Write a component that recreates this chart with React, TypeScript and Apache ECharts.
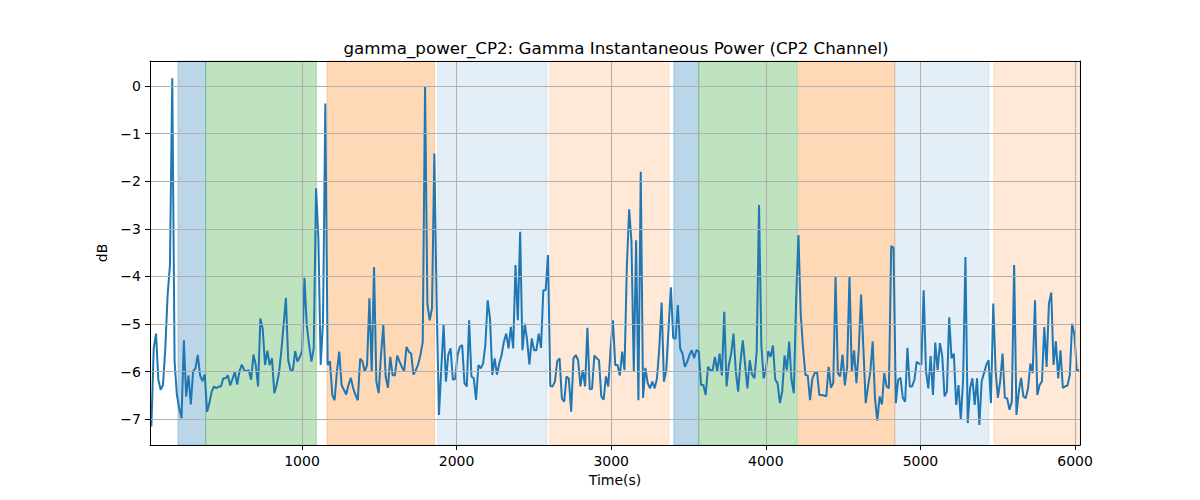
import React, { useEffect, useRef } from "react";
import * as echarts from "echarts";

const TITLE = "gamma_power_CP2: Gamma Instantaneous Power (CP2 Channel)";
const X_NAME = "Time(s)";
const Y_NAME = "dB";

// regular sampling of the time axis (seconds)
const T_START = 26;
const T_STEP = 15;

// gamma power (dB), one value per sample
const POWER_DB = [
  -7.15, -5.51, -5.2, -6.17, -6.38, -6.28, -5.51, -4.39, -3.76, 0.16,
  -5.79, -6.49, -6.77, -6.98, -5.34, -6.52, -6.08, -6.69, -5.99, -5.93,
  -5.65, -6.08, -6.2, -6.06, -6.84, -6.66, -6.42, -6.31, -6.35, -6.31,
  -6.31, -6.14, -6.14, -6.08, -6.29, -6.15, -6.01, -6.27, -5.99, -5.85,
  -5.97, -5.99, -5.97, -6.17, -5.64, -5.86, -6.31, -4.88, -5.1, -5.86,
  -5.56, -5.86, -5.72, -6.45, -6.28, -6.03, -5.58, -5.02, -4.45, -5.76,
  -5.97, -5.97, -5.57, -5.79, -5.69, -5.57, -4.03, -5.02, -5.44, -5.79,
  -5.51, -2.15, -3.2, -5.86, -4.95, -0.37, -5.86, -5.78, -6.49, -6.6,
  -6.0, -5.58, -6.28, -6.38, -6.48, -6.28, -6.13, -6.35, -6.49, -6.6,
  -5.73, -5.78, -6.0, -5.86, -4.46, -6.0, -3.8, -6.21, -6.45, -5.65,
  -5.02, -6.1, -6.34, -5.69, -6.07, -6.08, -5.66, -5.79, -5.9, -5.99,
  -5.48, -5.58, -5.62, -6.06, -5.97, -5.85, -5.65, -5.38, 0.0, -4.57,
  -4.92, -4.67, -1.42, -4.6, -6.91, -5.93, -5.01, -6.21, -5.65, -5.51,
  -6.17, -6.15, -5.65, -5.48, -5.44, -6.24, -6.31, -4.92, -6.1, -6.14,
  -6.59, -5.86, -5.93, -5.83, -5.44, -4.5, -4.88, -6.07, -5.72, -6.06,
  -5.83, -5.65, -5.37, -5.2, -5.51, -5.06, -5.51, -3.76, -4.92, -3.06,
  -5.55, -4.99, -5.34, -5.85, -5.3, -5.55, -5.55, -5.2, -5.5, -4.29,
  -4.29, -3.55, -6.3, -6.31, -6.21, -5.78, -5.72, -6.56, -6.63, -6.1,
  -6.15, -6.84, -5.72, -5.65, -5.76, -6.31, -5.97, -6.31, -5.08, -6.37,
  -6.36, -5.66, -5.72, -5.76, -6.52, -6.59, -6.1, -6.31, -5.51, -4.92,
  -5.86, -5.86, -6.08, -5.58, -5.97, -3.8, -2.59, -3.27, -6.0, -3.24,
  -6.6, -1.8, -6.55, -5.92, -6.24, -6.35, -6.21, -6.35, -6.14, -5.51,
  -4.55, -6.21, -5.97, -5.09, -4.23, -5.29, -5.31, -4.6, -5.51, -5.62,
  -5.9, -5.8, -5.65, -5.55, -5.72, -5.55, -5.57, -6.28, -6.28, -6.49,
  -5.9, -5.97, -5.97, -5.69, -6.0, -5.62, -6.08, -4.74, -6.31, -5.86,
  -5.62, -5.2, -6.0, -6.42, -5.79, -5.34, -5.86, -6.35, -5.76, -6.06,
  -6.14, -5.58, -2.5, -5.44, -6.14, -5.93, -5.57, -5.69, -5.45, -6.17,
  -6.24, -6.66, -6.42, -5.66, -5.97, -5.37, -6.17, -6.45, -4.5, -3.13,
  -4.81, -5.51, -6.07, -6.08, -6.6, -6.14, -6.03, -6.0, -6.49, -6.49,
  -6.5, -6.52, -5.9, -6.34, -6.24, -4.01, -6.03, -6.1, -5.64, -6.29,
  -5.9, -3.99, -6.0, -5.55, -6.24, -5.55, -4.38, -5.51, -6.66, -6.31,
  -6.0, -5.36, -6.56, -7.03, -6.52, -6.69, -6.03, -6.31, -6.35, -3.36,
  -3.4, -6.66, -6.17, -6.13, -6.55, -6.63, -5.5, -6.31, -6.31, -6.17,
  -5.79, -5.83, -5.85, -4.29, -6.0, -6.35, -5.67, -6.49, -5.39, -5.97,
  -5.4, -5.67, -6.52, -6.42, -4.86, -5.72, -5.62, -6.7, -6.28, -7.01,
  -6.17, -3.59, -7.08, -6.35, -6.14, -6.7, -6.14, -7.12, -6.2, -6.03,
  -5.86, -5.76, -6.66, -4.57, -5.97, -6.55, -6.2, -5.62, -6.55, -6.56,
  -6.8, -6.63, -3.76, -6.91, -6.42, -6.13, -6.52, -6.56, -6.35, -5.83,
  -6.03, -4.5, -6.49, -6.28, -6.2, -5.06, -5.9, -4.57, -4.34, -5.86,
  -5.36, -6.14, -5.55, -6.34, -6.31, -6.29, -6.07, -4.99, -5.23, -5.97,
  -5.97,
];

const X_TICKS = [1000, 2000, 3000, 4000, 5000, 6000];
const Y_TICKS = [-7, -6, -5, -4, -3, -2, -1, 0];

// shaded epochs
const SPAN_STARTS = [198, 377, 1162, 1878, 2602, 3405, 3566, 4213, 4834, 5475];
const SPAN_ENDS = [377, 1093, 1858, 2585, 3374, 3566, 4204, 4834, 5443, 6040];
const SPAN_KINDS = [
  "blue", "green", "orange", "lightblue", "lightorange",
  "blue", "green", "orange", "lightblue", "lightorange",
];

const SPAN_COLORS: Record<string, string> = {
  blue: "rgba(31,119,180,0.3)",
  green: "rgba(44,160,44,0.3)",
  orange: "rgba(255,127,14,0.3)",
  lightblue: "rgba(31,119,180,0.12)",
  lightorange: "rgba(255,127,14,0.17)",
};

const X_MIN = 17;
const X_MAX = 6032;
const Y_MIN = -7.54;
const Y_MAX = 0.525;

const FONT = "DejaVu Sans";

const fmt = (v: number) => (v < 0 ? "\u2212" + Math.abs(v) : String(v));

export default function App() {
  const ref = useRef<HTMLDivElement>(null);

  useEffect(() => {
    if (!ref.current) return;
    const chart = echarts.init(ref.current, undefined, { renderer: "svg" });

    const lineData = POWER_DB.map((v, i) => [T_START + T_STEP * i, v]);

    const spans = SPAN_STARTS.map((s, i) => {
      const c = SPAN_COLORS[SPAN_KINDS[i]];
      return [
        { xAxis: s, itemStyle: { color: c, borderColor: c, borderWidth: 1 } },
        { xAxis: SPAN_ENDS[i] },
      ];
    });

    const gridLines = [
      ...X_TICKS.map((v) => ({ xAxis: v })),
      ...Y_TICKS.map((v) => ({ yAxis: v })),
    ];

    const axisCommon = {
      z: 10,
      axisLine: { show: true, onZero: false, lineStyle: { color: "#000", width: 1 } },
      splitLine: { show: false },
    };

    chart.setOption({
      animation: false,
      backgroundColor: "#fff",
      textStyle: { fontFamily: FONT },
      title: {
        text: TITLE,
        left: 611,
        top: 34,
        textAlign: "center",
        textStyle: { fontFamily: FONT, fontSize: 16.7, fontWeight: "normal", color: "#000" },
      },
      grid: { left: 150, right: 120, top: 61, bottom: 55, containLabel: false },
      xAxis: [
        {
          ...axisCommon,
          type: "value",
          position: "bottom",
          min: X_MIN,
          max: X_MAX,
          name: X_NAME,
          nameLocation: "middle",
          nameGap: 28,
          nameTextStyle: { fontFamily: FONT, fontSize: 14, color: "#000" },
          axisTick: { show: true, length: 5, inside: false, customValues: X_TICKS, lineStyle: { color: "#000" } },
          axisLabel: {
            show: true,
            margin: 9,
            customValues: X_TICKS,
            formatter: fmt,
            fontFamily: FONT,
            fontSize: 14,
            color: "#000",
          },
        },
        {
          ...axisCommon,
          type: "value",
          position: "top",
          min: X_MIN,
          max: X_MAX,
          axisTick: { show: false },
          axisLabel: { show: false },
        },
      ],
      yAxis: [
        {
          ...axisCommon,
          type: "value",
          position: "left",
          min: Y_MIN,
          max: Y_MAX,
          name: Y_NAME,
          nameLocation: "middle",
          nameGap: 36,
          nameTextStyle: { fontFamily: FONT, fontSize: 14, color: "#000" },
          axisTick: { show: true, length: 5, inside: false, customValues: Y_TICKS, lineStyle: { color: "#000" } },
          axisLabel: {
            show: true,
            margin: 9,
            customValues: Y_TICKS,
            formatter: fmt,
            fontFamily: FONT,
            fontSize: 14,
            color: "#000",
          },
        },
        {
          ...axisCommon,
          type: "value",
          position: "right",
          min: Y_MIN,
          max: Y_MAX,
          axisTick: { show: false },
          axisLabel: { show: false },
        },
      ],
      series: [
        {
          type: "line",
          data: [],
          z: 1,
          silent: true,
          markArea: { silent: true, data: spans },
        },
        {
          type: "line",
          data: [],
          z: 2,
          silent: true,
          markLine: {
            silent: true,
            symbol: ["none", "none"],
            label: { show: false },
            lineStyle: { color: "#b0b0b0", width: 1.1, type: "solid" },
            emphasis: { disabled: true },
            data: gridLines,
          },
        },
        {
          type: "line",
          data: lineData,
          z: 3,
          showSymbol: false,
          symbol: "none",
          lineStyle: { color: "#1f77b4", width: 2 },
          itemStyle: { color: "#1f77b4" },
          silent: true,
        },
      ],
    });

    return () => chart.dispose();
  }, []);

  return (
    <div
      ref={ref}
      style={{ position: "fixed", left: 0, top: 0, width: 1200, height: 500 }}
    />
  );
}
